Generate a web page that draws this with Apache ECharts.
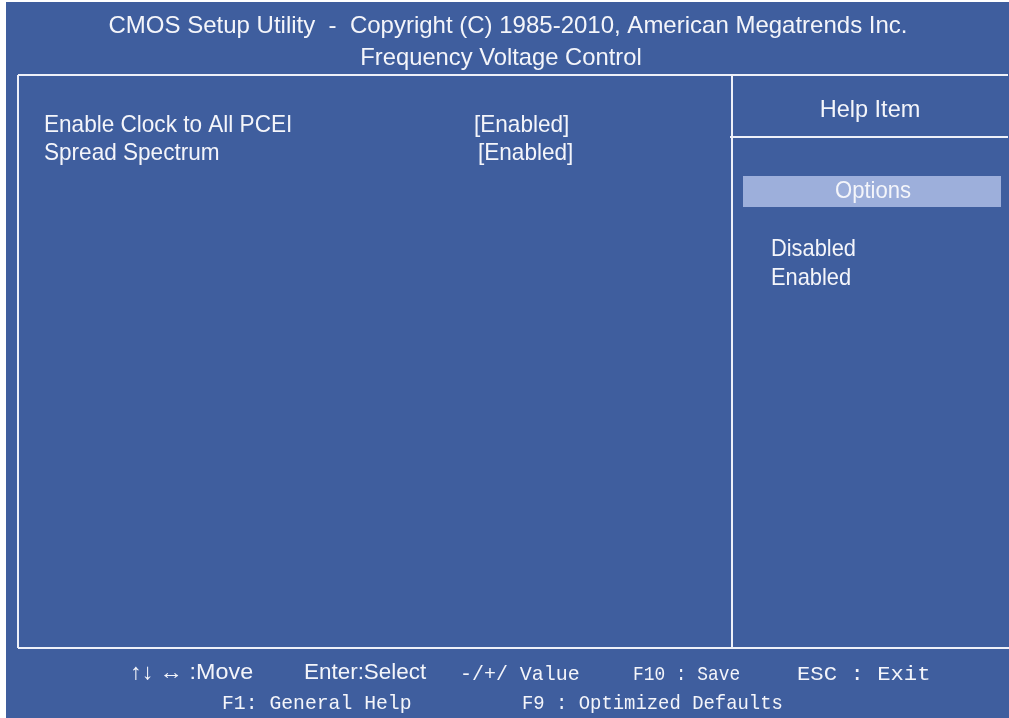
<!DOCTYPE html>
<html>
<head>
<meta charset="utf-8">
<style>
  html, body { margin: 0; padding: 0; background: #ffffff; }
  #main { width: 1009px; height: 718px; }
</style>
<script src="https://cdn.jsdelivr.net/npm/echarts@6/dist/echarts.min.js"></script>
</head>
<body>
<div id="main"></div>
<script>
// screen texts
const titleLines = ['CMOS Setup Utility  -  Copyright (C) 1985-2010, American Megatrends Inc.', 'Frequency Voltage Control']
const itemNames = ['Enable Clock to All PCEI', 'Spread Spectrum']
const itemValues = ['[Enabled]', '[Enabled]']
const helpTitle = 'Help Item'
const optionsTitle = 'Options'
const optionValues = ['Disabled', 'Enabled']
const footerRow1 = ['\u2191\u2193 \u2194 :Move', 'Enter:Select', '-/+/ Value', 'F10 : Save', 'ESC : Exit']
const footerRow2 = ['F1: General Help', 'F9 : Optimized Defaults']

const BG = '#3f5e9e'
const LINE = '#eef0f8'
const TXT = '#f4f5fa'
const SANS = '"Liberation Sans", Arial, sans-serif'
const MONO = '"Liberation Mono", "DejaVu Sans Mono", monospace'

function label(x, y, str, opt) {
  opt = opt || {}
  return {
    type: 'text',
    x: x,
    y: y,
    scaleX: opt.sx || 1,
    style: {
      text: str,
      fill: opt.fill || TXT,
      font: (opt.size || 20) + 'px ' + (opt.family || SANS),
      textAlign: opt.align || 'left',
      textVerticalAlign: 'middle'
    },
    z: 10
  }
}

function line(x1, y1, x2, y2) {
  return {
    type: 'line',
    shape: { x1: x1, y1: y1, x2: x2, y2: y2 },
    style: { stroke: LINE, lineWidth: 2 },
    z: 5
  }
}

const elements = [
  { type: 'rect', shape: { x: 6, y: 2, width: 1003, height: 716 }, style: { fill: BG }, z: 0 },
  // frame
  line(18, 75, 1008, 75),
  line(18, 75, 18, 648),
  line(18, 648, 1009, 648),
  line(732, 75, 732, 648),
  line(730, 137, 1008, 137),
  // options bar
  { type: 'rect', shape: { x: 743, y: 176, width: 258, height: 31 }, style: { fill: '#9dafdb' }, z: 3 }
]

elements.push(label(508, 26, titleLines[0], { size: 24, sx: 1.0, align: 'center' }))
elements.push(label(501, 58, titleLines[1], { size: 24, sx: 0.99, align: 'center' }))

const itemY = [125, 153]
const valueX = [474, 478]
itemNames.forEach(function (n, i) {
  elements.push(label(44, itemY[i], n, { size: 24, sx: 0.94 }))
  elements.push(label(valueX[i], itemY[i], itemValues[i], { size: 24, sx: 0.94 }))
})

elements.push(label(870, 110, helpTitle, { size: 24, sx: 0.98, align: 'center' }))
elements.push(label(873, 191, optionsTitle, { size: 24, sx: 0.92, align: 'center' }))
const optY = [249, 278]
optionValues.forEach(function (v, i) {
  elements.push(label(771, optY[i], v, { size: 24, sx: 0.91 }))
})

// footer
const row1X = [130, 304, 460, 633, 797]
const row1Sx = [1.06, 1.02, 0.95, 0.85, 1.06]
footerRow1.forEach(function (s, i) {
  if (i < 2) {
    elements.push(label(row1X[i], 673, s, { size: 22, sx: row1Sx[i] }))
  } else {
    elements.push(label(row1X[i], 674, s, { size: 21, sx: row1Sx[i], family: MONO }))
  }
})
const row2X = [222, 522]
const row2Sx = [0.94, 0.9]
footerRow2.forEach(function (s, i) {
  elements.push(label(row2X[i], 703, s, { size: 21, sx: row2Sx[i], family: MONO }))
})

const chart = echarts.init(document.getElementById('main'), null, { renderer: 'canvas' })
chart.setOption({
  animation: false,
  graphic: { elements: elements }
})
</script>
</body>
</html>
